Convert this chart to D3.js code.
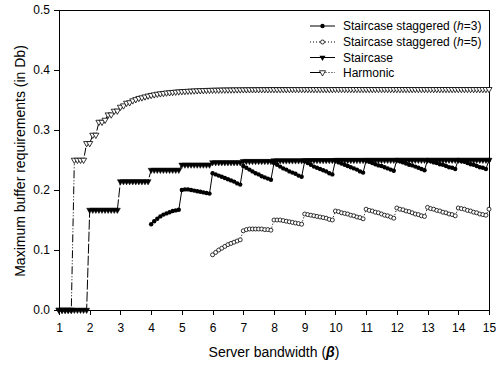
<!DOCTYPE html>
<html><head><meta charset="utf-8">
<script src="https://cdn.jsdelivr.net/npm/d3@7"></script>
<style>body{margin:0;background:#fff;}svg{display:block;}text{font-family:Arial,"Liberation Sans",sans-serif;}</style>
</head><body><svg id="c" width="496" height="366"></svg>
<script>
// Server bandwidth samples (beta)
const beta = [
 1.0,1.1,1.2,1.3,1.4,1.5,1.6,1.7,1.8,1.9,
 2.0,2.1,2.2,2.3,2.4,2.5,2.6,2.7,2.8,2.9,
 3.0,3.1,3.2,3.3,3.4,3.5,3.6,3.7,3.8,3.9,
 4.0,4.1,4.2,4.3,4.4,4.5,4.6,4.7,4.8,4.9,
 5.0,5.1,5.2,5.3,5.4,5.5,5.6,5.7,5.8,5.9,
 6.0,6.1,6.2,6.3,6.4,6.5,6.6,6.7,6.8,6.9,
 7.0,7.1,7.2,7.3,7.4,7.5,7.6,7.7,7.8,7.9,
 8.0,8.1,8.2,8.3,8.4,8.5,8.6,8.7,8.8,8.9,
 9.0,9.1,9.2,9.3,9.4,9.5,9.6,9.7,9.8,9.9,
 10.0,10.1,10.2,10.3,10.4,10.5,10.6,10.7,10.8,10.9,
 11.0,11.1,11.2,11.3,11.4,11.5,11.6,11.7,11.8,11.9,
 12.0,12.1,12.2,12.3,12.4,12.5,12.6,12.7,12.8,12.9,
 13.0,13.1,13.2,13.3,13.4,13.5,13.6,13.7,13.8,13.9,
 14.0,14.1,14.2,14.3,14.4,14.5,14.6,14.7,14.8,14.9,
 15.0];

const staggeredH3 = [
 null,null,null,null,null,null,null,null,null,null,
 null,null,null,null,null,null,null,null,null,null,
 null,null,null,null,null,null,null,null,null,null,
 0.143,0.148,0.152,0.156,0.159,0.161,0.163,0.165,0.166,0.167,
 0.200,0.201,0.201,0.200,0.199,0.198,0.197,0.196,0.195,0.194,
 0.228,0.226,0.224,0.222,0.220,0.218,0.216,0.214,0.211,0.209,
 0.240,0.237,0.234,0.231,0.228,0.226,0.223,0.221,0.219,0.217,
 0.245,0.242,0.239,0.236,0.234,0.231,0.229,0.227,0.224,0.222,
 0.248,0.245,0.242,0.239,0.237,0.235,0.233,0.231,0.228,0.226,
 0.249,0.246,0.244,0.242,0.240,0.238,0.236,0.234,0.231,0.229,
 0.249,0.247,0.245,0.243,0.241,0.240,0.238,0.236,0.234,0.232,
 0.250,0.248,0.246,0.244,0.242,0.241,0.239,0.237,0.235,0.233,
 0.250,0.248,0.246,0.245,0.243,0.242,0.240,0.238,0.237,0.235,
 0.250,0.248,0.247,0.245,0.243,0.242,0.240,0.238,0.237,0.235,
 0.250];

const staggeredH5 = [
 null,null,null,null,null,null,null,null,null,null,
 null,null,null,null,null,null,null,null,null,null,
 null,null,null,null,null,null,null,null,null,null,
 null,null,null,null,null,null,null,null,null,null,
 null,null,null,null,null,null,null,null,null,null,
 0.092,0.096,0.100,0.103,0.106,0.109,0.111,0.113,0.115,0.117,
 0.132,0.134,0.135,0.135,0.135,0.135,0.135,0.134,0.134,0.133,
 0.150,0.150,0.150,0.149,0.148,0.147,0.146,0.145,0.144,0.143,
 0.160,0.159,0.158,0.157,0.156,0.155,0.154,0.153,0.151,0.150,
 0.165,0.164,0.162,0.161,0.160,0.158,0.157,0.155,0.154,0.152,
 0.168,0.166,0.165,0.163,0.162,0.160,0.158,0.157,0.155,0.153,
 0.170,0.168,0.167,0.165,0.164,0.162,0.160,0.159,0.157,0.156,
 0.171,0.169,0.168,0.166,0.165,0.163,0.162,0.160,0.159,0.157,
 0.170,0.169,0.168,0.166,0.165,0.163,0.162,0.160,0.159,0.158,
 0.168];

const staircase = [
 0,0,0,0,0,0,0,0,0,0,
 0.1667,0.1667,0.1667,0.1667,0.1667,0.1667,0.1667,0.1667,0.1667,0.1667,
 0.2143,0.2143,0.2143,0.2143,0.2143,0.2143,0.2143,0.2143,0.2143,0.2143,
 0.2333,0.2333,0.2333,0.2333,0.2333,0.2333,0.2333,0.2333,0.2333,0.2333,
 0.2419,0.2419,0.2419,0.2419,0.2419,0.2419,0.2419,0.2419,0.2419,0.2419,
 0.2460,0.2460,0.2460,0.2460,0.2460,0.2460,0.2460,0.2460,0.2460,0.2460,
 0.2480,0.2480,0.2480,0.2480,0.2480,0.2480,0.2480,0.2480,0.2480,0.2480,
 0.2490,0.2490,0.2490,0.2490,0.2490,0.2490,0.2490,0.2490,0.2490,0.2490,
 0.2495,0.2495,0.2495,0.2495,0.2495,0.2495,0.2495,0.2495,0.2495,0.2495,
 0.2498,0.2498,0.2498,0.2498,0.2498,0.2498,0.2498,0.2498,0.2498,0.2498,
 0.2499,0.2499,0.2499,0.2499,0.2499,0.2499,0.2499,0.2499,0.2499,0.2499,
 0.25,0.25,0.25,0.25,0.25,0.25,0.25,0.25,0.25,0.25,
 0.25,0.25,0.25,0.25,0.25,0.25,0.25,0.25,0.25,0.25,
 0.25,0.25,0.25,0.25,0.25,0.25,0.25,0.25,0.25,0.25,
 0.25];

const harmonic = [
 0,0,0,0,0,0.25,0.25,0.25,0.25,0.2778,
 0.2778,0.2917,0.2917,0.3133,0.3133,0.3167,0.3255,0.3255,0.3317,0.3319,
 0.3383,0.3406,0.3450,0.3458,0.3490,0.3510,0.3530,0.3540,0.3555,0.3569,
 0.3580,0.3590,0.3600,0.3607,0.3613,0.3620,0.3625,0.3630,0.3635,0.3639,
 0.3643,0.3646,0.3649,0.3652,0.3654,0.3657,0.3659,0.3661,0.3663,0.3664,
 0.3666,0.3667,0.3668,0.3669,0.3670,0.3671,0.3671,0.3672,0.3673,0.3673,
 0.3674,0.3674,0.3675,0.3675,0.3675,0.3676,0.3676,0.3676,0.3676,0.3677,
 0.3677,0.3677,0.3677,0.3677,0.3677,0.3678,0.3678,0.3678,0.3678,0.3678,
 0.3678,0.3678,0.3678,0.3678,0.3678,0.3678,0.3678,0.3678,0.3678,0.3678,
 0.3679,0.3679,0.3679,0.3679,0.3679,0.3679,0.3679,0.3679,0.3679,0.3679,
 0.3679,0.3679,0.3679,0.3679,0.3679,0.3679,0.3679,0.3679,0.3679,0.3679,
 0.3679,0.3679,0.3679,0.3679,0.3679,0.3679,0.3679,0.3679,0.3679,0.3679,
 0.3679,0.3679,0.3679,0.3679,0.3679,0.3679,0.3679,0.3679,0.3679,0.3679,
 0.3679,0.3679,0.3679,0.3679,0.3679,0.3679,0.3679,0.3679,0.3679,0.3679,
 0.3679];

const xTicks = [1,2,3,4,5,6,7,8,9,10,11,12,13,14,15];
const yTicks = [0.0,0.1,0.2,0.3,0.4,0.5];
const legendLabels = ["Staircase staggered (", "Staircase staggered (", "Staircase", "Harmonic"];

const svg = d3.select("#c");
const m = {l:59, r:489, t:10, b:310};
const x = d3.scaleLinear().domain([1,15]).range([m.l, m.r]);
const y = d3.scaleLinear().domain([0,0.5]).range([m.b, m.t]);

// frame
svg.append("rect").attr("x", m.l).attr("y", m.t).attr("width", m.r-m.l).attr("height", m.b-m.t)
  .attr("fill","none").attr("stroke","#000").attr("stroke-width",1).attr("shape-rendering","crispEdges");

const xAxis = svg.append("g").attr("transform",`translate(0,${m.b})`)
  .call(d3.axisBottom(x).tickValues(xTicks).tickFormat(d3.format("d")).tickSize(5).tickPadding(8));
const yAxis = svg.append("g").attr("transform",`translate(${m.l},0)`)
  .call(d3.axisLeft(y).tickValues(yTicks).tickFormat(d3.format(".1f")).tickSize(5).tickPadding(4));
[xAxis,yAxis].forEach(a=>{
  a.selectAll("text").attr("font-size",12).attr("font-family","Arial, 'Liberation Sans', sans-serif").attr("fill","#000");
  a.selectAll("line,path").attr("stroke","#000").attr("shape-rendering","crispEdges");
});

function series(vals){ return beta.map((b,i)=>({b, v: vals[i]})).filter(d=>d.v!=null); }
const line = d3.line().x(d=>x(d.b)).y(d=>y(d.v));

const tri = d3.symbol().type(d3.symbolTriangle).size(16);

// Harmonic
const hData = series(harmonic);
svg.append("path").attr("d", line(hData)).attr("fill","none").attr("stroke","#000").attr("stroke-width",1)
  .attr("stroke-dasharray","8,2,1,2,1,2");
svg.append("g").selectAll("path").data(hData).join("path")
  .attr("d", tri).attr("transform", d=>`translate(${x(d.b)},${y(d.v)}) rotate(180)`)
  .attr("fill","#fff").attr("stroke","#000").attr("stroke-width",0.8);

// Staircase
const sData = series(staircase);
svg.append("path").attr("d", line(sData)).attr("fill","none").attr("stroke","#000").attr("stroke-width",1)
  .attr("stroke-dasharray","10,2");
svg.append("g").selectAll("path").data(sData).join("path")
  .attr("d", tri).attr("transform", d=>`translate(${x(d.b)},${y(d.v)}) rotate(180)`)
  .attr("fill","#000").attr("stroke","#000").attr("stroke-width",0.5);

// Staggered h=5
const s5 = series(staggeredH5);
svg.append("path").attr("d", line(s5)).attr("fill","none").attr("stroke","#000").attr("stroke-width",1)
  .attr("stroke-dasharray","1,2");
svg.append("g").selectAll("circle").data(s5).join("circle")
  .attr("cx", d=>x(d.b)).attr("cy", d=>y(d.v)).attr("r",2)
  .attr("fill","#fff").attr("stroke","#000").attr("stroke-width",0.8);

// Staggered h=3
const s3 = series(staggeredH3);
svg.append("path").attr("d", line(s3)).attr("fill","none").attr("stroke","#000").attr("stroke-width",1);
svg.append("g").selectAll("circle").data(s3).join("circle")
  .attr("cx", d=>x(d.b)).attr("cy", d=>y(d.v)).attr("r",2.2).attr("fill","#000");

// Legend
const lg = svg.append("g");
const rowsY = [26, 42, 57.5, 72.5];
const lx0 = 310, lx1 = 335, lxm = 322.5, ltx = 343;
// row 1: h=3
lg.append("line").attr("x1",lx0).attr("x2",lx1).attr("y1",rowsY[0]).attr("y2",rowsY[0]).attr("stroke","#000");
lg.append("circle").attr("cx",lxm).attr("cy",rowsY[0]).attr("r",2.2).attr("fill","#000");
// row 2: h=5
lg.append("line").attr("x1",lx0).attr("x2",lx1).attr("y1",rowsY[1]).attr("y2",rowsY[1]).attr("stroke","#000").attr("stroke-dasharray","1,2");
lg.append("circle").attr("cx",lxm).attr("cy",rowsY[1]).attr("r",2).attr("fill","#fff").attr("stroke","#000").attr("stroke-width",0.8);
// row 3: staircase
lg.append("line").attr("x1",lx0).attr("x2",lx1).attr("y1",rowsY[2]).attr("y2",rowsY[2]).attr("stroke","#000");
lg.append("path").attr("d",tri).attr("transform",`translate(${lxm},${rowsY[2]}) rotate(180)`).attr("fill","#000");
// row 4: harmonic
lg.append("line").attr("x1",lx0).attr("x2",lxm).attr("y1",rowsY[3]).attr("y2",rowsY[3]).attr("stroke","#000");
lg.append("line").attr("x1",lxm).attr("x2",lx1).attr("y1",rowsY[3]).attr("y2",rowsY[3]).attr("stroke","#000").attr("stroke-dasharray","1,2");
lg.append("path").attr("d",tri).attr("transform",`translate(${lxm},${rowsY[3]}) rotate(180)`).attr("fill","#fff").attr("stroke","#000").attr("stroke-width",0.8);

const hvals = ["3","5"];
rowsY.forEach((ry,i)=>{
  const t = lg.append("text").attr("x",ltx).attr("y",ry+4.2).attr("font-size",12).attr("fill","#000");
  t.append("tspan").text(legendLabels[i]);
  if(i<2){
    t.append("tspan").attr("font-style","italic").text("h");
    t.append("tspan").text("=" + hvals[i] + ")");
  }
});

// Axis titles
svg.append("text").attr("x",(m.l+m.r)/2).attr("y",357).attr("text-anchor","middle").attr("font-size",14)
  .call(t=>{ t.append("tspan").text("Server bandwidth (");
             t.append("tspan").attr("font-weight","bold").attr("font-style","italic").text("β");
             t.append("tspan").text(")"); });
svg.append("text").attr("transform","translate(25,161) rotate(-90)").attr("text-anchor","middle").attr("font-size",14)
  .text("Maximum buffer requirements (in Db)");
</script></body></html>
